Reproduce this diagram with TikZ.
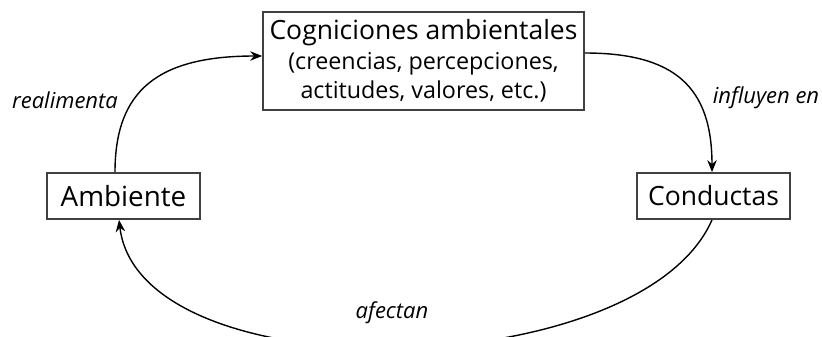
\documentclass[tikz,border=0pt]{standalone}
\usepackage{fontspec}
\setmainfont{Open Sans}
\usetikzlibrary{arrows.meta}
\begin{document}
\begin{tikzpicture}[x=1pt,y=-1pt,
  box/.style={draw=black!75,line width=1.7pt,inner sep=0pt,align=center},
  conn/.style={line width=1.4pt,-{Stealth[length=12pt,width=9.5pt]}},
  lab/.style={font=\fontsize{22}{26}\selectfont\itshape,inner sep=0pt}]
\useasboundingbox (0,0) rectangle (822,337);
\clip (0,0) rectangle (822,337);
\node[box,minimum width=321pt,minimum height=98pt,font=\fontsize{23.3}{29.5}\selectfont] (cog) at (423.5,61)
  {{\fontsize{26.5}{29.5}\selectfont Cogniciones ambientales}\\(creencias, percepciones,\\actitudes, valores, etc.)};
\node[box,minimum width=153pt,minimum height=46pt,font=\fontsize{27.8}{30}\selectfont] (amb) at (123.5,196) {Ambiente};
\node[box,minimum width=153pt,minimum height=46pt,font=\fontsize{26.5}{30}\selectfont] (cond) at (713.5,196) {Conductas};
\draw[conn] ([xshift=-8.5pt]amb.north) .. controls +(0,-82) and +(-104,0) .. ([yshift=5pt]cog.west);
\draw[conn] ([yshift=8pt]cog.east) .. controls +(90,0) and +(0,-85) .. ([xshift=-1.5pt]cond.north);
\draw[conn] ([xshift=-1.5pt]cond.south) .. controls +(-72,165) and +(21,175) .. ([xshift=-4.5pt]amb.south);
\node[lab] (l1) at (65,100) {realimenta};
\node[lab] (l2) at (766,98) {influyen en};
\node[lab] (l3) at (392,313) {afectan};
\end{tikzpicture}
\end{document}
